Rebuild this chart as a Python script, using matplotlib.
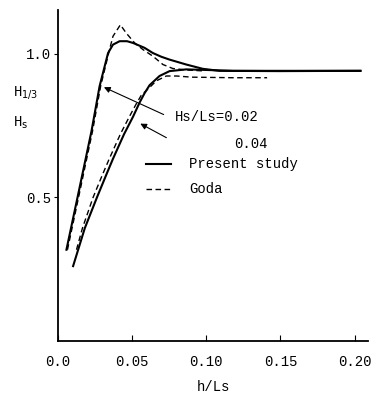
import matplotlib
matplotlib.use("Agg")
import matplotlib.pyplot as plt

plt.rcParams["font.family"] = ["Liberation Mono", "DejaVu Sans Mono"]

# Hs/Ls = 0.02, present study (solid)
x_p02 = [0.0056, 0.0135, 0.0225, 0.028, 0.0337, 0.037, 0.0415, 0.0465,
         0.0505, 0.0583, 0.0639, 0.0696, 0.0752, 0.0864, 0.0976, 0.1088, 0.149, 0.204]
y_p02 = [0.318, 0.51, 0.73, 0.887, 1.002, 1.031, 1.043, 1.043,
         1.037, 1.020, 1.002, 0.989, 0.979, 0.962, 0.947, 0.940, 0.939, 0.940]

# Hs/Ls = 0.02, Goda (dashed)
x_g02 = [0.0063, 0.0142, 0.0232, 0.0287, 0.0345, 0.037, 0.042, 0.046,
         0.0516, 0.0572, 0.0639, 0.0707, 0.0774, 0.0864, 0.097]
y_g02 = [0.318, 0.51, 0.73, 0.887, 1.010, 1.06, 1.10, 1.071,
         1.037, 1.014, 0.991, 0.962, 0.948, 0.943, 0.940]

# Hs/Ls = 0.04, present study (solid)
x_p04 = [0.0101, 0.018, 0.0262, 0.0326, 0.037, 0.0445, 0.0505, 0.055, 0.0583,
         0.0617, 0.0684, 0.0752, 0.0864, 0.10, 0.118, 0.204]
y_p04 = [0.261, 0.393, 0.50, 0.58, 0.634, 0.72, 0.78, 0.83, 0.862,
         0.89, 0.922, 0.939, 0.945, 0.943, 0.940, 0.940]

# Hs/Ls = 0.04, Goda (dashed)
x_g04 = [0.0124, 0.0164, 0.0236, 0.030, 0.0345, 0.042, 0.048, 0.0527, 0.0561,
         0.0617, 0.0662, 0.073, 0.080, 0.09, 0.118, 0.141]
y_g04 = [0.318, 0.393, 0.50, 0.58, 0.634, 0.72, 0.78, 0.825, 0.855,
         0.882, 0.905, 0.922, 0.922, 0.918, 0.916, 0.916]

xticks = [0.0, 0.05, 0.10, 0.15, 0.20]
xtick_labels = ["0.0", "0.05", "0.10", "0.15", "0.20"]
yticks = [0.5, 1.0]
ytick_labels = ["0.5", "1.0"]

fig = plt.figure(figsize=(3.75, 3.94), dpi=100)
ax = fig.add_axes([0.155, 0.134, 0.826, 0.841])

ax.plot(x_p02, y_p02, color="black", lw=1.5)
ax.plot(x_g02, y_g02, color="black", lw=1.0, ls=(0, (4, 2.5)))
ax.plot(x_p04, y_p04, color="black", lw=1.5)
ax.plot(x_g04, y_g04, color="black", lw=1.0, ls=(0, (4, 2.5)))

# arrows pointing to the curves
ax.annotate("", xy=(0.0292, 0.887), xytext=(0.0729, 0.784),
            arrowprops=dict(arrowstyle="-|>", color="black", lw=0.8, mutation_scale=9))
ax.annotate("", xy=(0.0538, 0.761), xytext=(0.0747, 0.703),
            arrowprops=dict(arrowstyle="-|>", color="black", lw=0.8, mutation_scale=9))
ax.text(0.0785, 0.778, "Hs/Ls=0.02", fontsize=10, va="center")
ax.text(0.119, 0.686, "0.04", fontsize=10, va="center")

# legend drawn by hand
ax.plot([0.0594, 0.0763], [0.617, 0.617], color="black", lw=1.5)
ax.plot([0.0594, 0.0763], [0.529, 0.529], color="black", lw=1.0, ls=(0, (4, 2.5)))
ax.text(0.0886, 0.617, "Present study", fontsize=10, va="center")
ax.text(0.0886, 0.529, "Goda", fontsize=10, va="center")

ax.set_xlim(0, 0.209)
ax.set_ylim(0, 1.152)
ax.set_xticks(xticks)
ax.set_xticklabels(xtick_labels, fontsize=10)
ax.set_yticks(yticks)
ax.set_yticklabels(ytick_labels, fontsize=10)
ax.tick_params(axis="x", direction="in", length=4, pad=10)
ax.tick_params(axis="y", direction="out", length=3, pad=2)
ax.spines["top"].set_visible(False)
ax.spines["right"].set_visible(False)
ax.spines["left"].set_linewidth(1.3)
ax.spines["bottom"].set_linewidth(1.3)

ax.set_xlabel("h/Ls", fontsize=10, labelpad=8)
fig.text(0.035, 0.766, r"H$_{1/3}$", fontsize=10, va="center")
fig.text(0.035, 0.688, r"H$_{\mathrm{s}}$", fontsize=10, va="center")

fig.savefig("out.png", dpi=100)
